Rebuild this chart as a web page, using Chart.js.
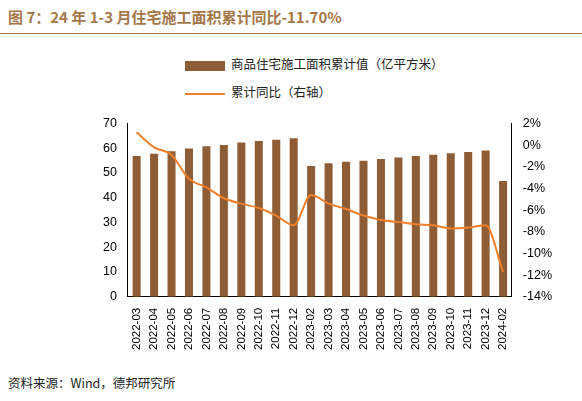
<!DOCTYPE html>
<html>
<head>
<meta charset="utf-8">
<script src="https://cdn.jsdelivr.net/npm/chart.js@4"></script>
<style>
body{margin:0;width:582px;height:401px;background:#fff;font-family:"Noto Sans CJK SC",sans-serif;position:relative;overflow:hidden}
#title{position:absolute;left:8px;top:6px;font-size:15px;font-weight:bold;color:#a5784a}
#rule{position:absolute;left:0;top:33px;width:582px;height:1px;background:#a5784a}
.lg{position:absolute;font-size:12.5px;color:#222;left:185px}
.sw{display:inline-block;vertical-align:middle;margin-right:6px}
#src{position:absolute;left:8px;top:373px;font-size:12.5px;color:#222}
#wrap{position:absolute;left:100px;top:113px;width:455px;height:240px}
</style>
</head>
<body>
<div id="title">图 7：24 年 1-3 月住宅施工面积累计同比-11.70%</div>
<div id="rule"></div>
<div class="lg" style="top:54px"><span class="sw" style="width:40px;height:10px;background:#8e5d36"></span>商品住宅施工面积累计值（亿平方米）</div>
<div class="lg" style="top:82px"><span class="sw" style="width:40px;height:2px;background:#f07f2a"></span>累计同比（右轴）</div>
<div id="wrap"><canvas id="c"></canvas></div>
<div id="src">资料来源：Wind，德邦研究所</div>
<script>
const labels = ['2022-03','2022-04','2022-05','2022-06','2022-07','2022-08','2022-09','2022-10','2022-11','2022-12',
  '2023-02','2023-03','2023-04','2023-05','2023-06','2023-07','2023-08','2023-09','2023-10','2023-11','2023-12','2024-02'];
const area = [56.9,57.8,58.8,59.9,60.8,61.3,62.3,62.9,63.4,64.0,52.8,53.9,54.5,55.0,55.7,56.3,56.9,57.4,58.0,58.5,59.1,46.8];
const yoy = [1.2,-0.2,-0.9,-3.1,-3.9,-4.9,-5.4,-5.8,-6.5,-7.4,-4.6,-5.4,-5.9,-6.5,-6.9,-7.1,-7.3,-7.4,-7.7,-7.6,-7.4,-11.7];

Chart.defaults.font.family = '"Liberation Sans", Arial, sans-serif';
Chart.defaults.color = '#000';
new Chart(document.getElementById('c'), {
  type: 'bar',
  data: {
    labels: labels,
    datasets: [
      {type: 'line', data: yoy, yAxisID: 'y2', borderColor: '#f07f2a', borderWidth: 2, pointRadius: 0, tension: 0.4, cubicInterpolationMode: 'monotone', order: 0},
      {data: area, yAxisID: 'y', backgroundColor: '#8e5d36', categoryPercentage: 0.92, barPercentage: 0.5, order: 1}
    ]
  },
  options: {
    responsive: true, maintainAspectRatio: false, animation: false,
    plugins: {legend: {display: false}, tooltip: {enabled: false}},
    scales: {
      x: {grid: {display: false}, border: {color: '#000'}, ticks: {maxRotation: 90, minRotation: 90, autoSkip: false, font: {size: 11.5}}},
      y: {min: 0, max: 70, ticks: {stepSize: 10, font: {size: 12.5}}, grid: {display: false, drawTicks: true}, border: {color: '#000'}},
      y2: {position: 'right', min: -14, max: 2, ticks: {stepSize: 2, font: {size: 12.5}, callback: v => v + '%'}, grid: {display: false}, border: {color: '#000'}}
    }
  }
});
</script>
</body>
</html>
